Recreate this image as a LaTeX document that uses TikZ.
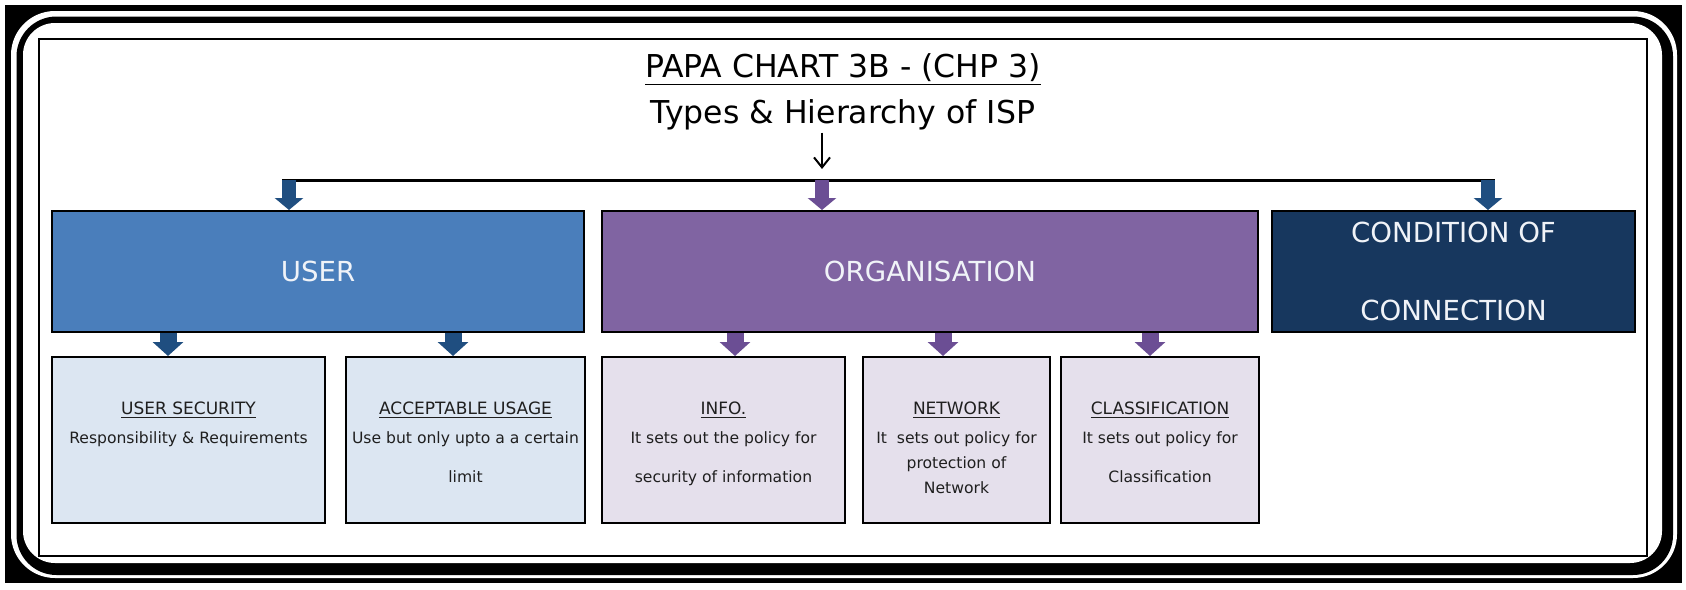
\documentclass[tikz,border=0pt]{standalone}
\usepackage{fontspec}
\setmainfont{DejaVu Sans}
\usetikzlibrary{arrows.meta}
\definecolor{userblue}{HTML}{4A7EBB}
\definecolor{orgpurple}{HTML}{8064A2}
\definecolor{condnavy}{HTML}{17375E}
\definecolor{lightblue}{HTML}{DCE6F2}
\definecolor{lightpurple}{HTML}{E5E0EC}
\definecolor{arrowblue}{HTML}{1F4E80}
\definecolor{arrowpurple}{HTML}{6B4E94}
\definecolor{boxtext}{HTML}{F0F3F8}
\newcommand{\lowtitle}[1]{{\fontsize{8.5pt}{14.5pt}\selectfont\underline{#1}}}
\begin{document}
\begin{tikzpicture}[x=0.5pt,y=-0.5pt,
  topbox/.style={draw=black, line width=1pt, inner sep=0pt, minimum height=60.5pt, text=boxtext, font=\fontsize{13.8pt}{39pt}\selectfont, align=center},
  lowbox/.style={draw=black, line width=1pt, inner sep=0pt, minimum height=83pt},
  lowtext/.style={inner sep=0pt, anchor=north, align=center, text=black!88, font=\fontsize{7.8pt}{14.5pt}\selectfont},
  blockarrow/.style={line width=7pt, -{Triangle[width=14pt,length=6pt]}},
  smallblock/.style={line width=8.5pt, -{Triangle[width=15pt,length=7pt]}},
  hline/.style={line width=1.5pt},
  headtext/.style={inner sep=0pt, anchor=base, font=\fontsize{15.75pt}{19pt}\selectfont},
  thinarrow/.style={line width=1pt, -{Straight Barb[length=5pt,width=8pt]}}
]
% frame
\fill[white] (0,0) rectangle (1686,589);
\fill[black] (5,5) rectangle (1682,583);
\fill[white, rounded corners=22pt] (11,11) rectangle (1677,578);
\fill[black, rounded corners=20pt] (16.5,16.5) rectangle (1673,575);
\fill[white, rounded corners=16pt] (23,23) rectangle (1662,563);
\draw[line width=0.8pt] (39,39) rectangle (1647,556);
\useasboundingbox (0,0) rectangle (1686,589);

% headings
\node[headtext] (title) at (843,77) {\underline{PAPA CHART 3B - (CHP 3)}};
\node[headtext] (sub) at (843,123) {Types \& Hierarchy of ISP};

% top boxes
\node[topbox, fill=userblue, minimum width=266pt] (user) at (318,271.5) {USER};
\node[topbox, fill=orgpurple, minimum width=328pt] (org) at (930,271.5) {ORGANISATION};
\node[topbox, fill=condnavy, minimum width=181.5pt] (cond) at (1453.5,271.5) {CONDITION OF\\CONNECTION};

% lower boxes
\node[lowbox, fill=lightblue, minimum width=136.5pt] (usec) at (188.5,440) {};
\node[lowbox, fill=lightblue, minimum width=119.5pt] (accu) at (465.5,440) {};
\node[lowbox, fill=lightpurple, minimum width=121.5pt] (info) at (723.5,440) {};
\node[lowbox, fill=lightpurple, minimum width=93.5pt] (net) at (956.5,440) {};
\node[lowbox, fill=lightpurple, minimum width=99pt] (cls) at (1160,440) {};

\node[lowtext] (usect) at ([yshift=-22.5pt]usec.north) {\lowtitle{USER SECURITY}\\Responsibility \& Requirements};
\node[lowtext] (accut) at ([yshift=-22.5pt]accu.north) {\lowtitle{ACCEPTABLE USAGE}\\Use but only upto a a certain\\[5pt]limit};
\node[lowtext] (infot) at ([yshift=-22.5pt]info.north) {\lowtitle{INFO.}\\It sets out the policy for\\[5pt]security of information};
\node[lowtext] (nett) at ([yshift=-22.5pt]net.north) {\lowtitle{NETWORK}\\It~ sets out policy for\\[-2pt]protection of\\[-2pt]Network};
\node[lowtext] (clst) at ([yshift=-22.5pt]cls.north) {\lowtitle{CLASSIFICATION}\\It sets out policy for\\[5pt]Classification};

% connectors
\coordinate (a1) at (289,180);
\coordinate (a2) at (822,180);
\coordinate (a3) at (1488,180);
\draw[thinarrow, shorten <=1.3pt, shorten >=5.5pt] (sub.south -| a2) -- (a2);
\draw[hline] ([xshift=-3.5pt]a1) -- ([xshift=3.5pt]a3);
\draw[blockarrow, arrowblue] (a1) -- (user.north -| a1);
\draw[blockarrow, arrowpurple] (a2) -- (org.north -| a2);
\draw[blockarrow, arrowblue] (a3) -- (cond.north -| a3);

\coordinate (k1) at (168,0);
\coordinate (k2) at (453,0);
\coordinate (k3) at (735,0);
\coordinate (k4) at (943,0);
\coordinate (k5) at (1150,0);
\draw[smallblock, arrowblue] (user.south -| k1) -- (usec.north -| k1);
\draw[smallblock, arrowblue] (user.south -| k2) -- (accu.north -| k2);
\draw[smallblock, arrowpurple] (org.south -| k3) -- (info.north -| k3);
\draw[smallblock, arrowpurple] (org.south -| k4) -- (net.north -| k4);
\draw[smallblock, arrowpurple] (org.south -| k5) -- (cls.north -| k5);
\end{tikzpicture}
\end{document}
